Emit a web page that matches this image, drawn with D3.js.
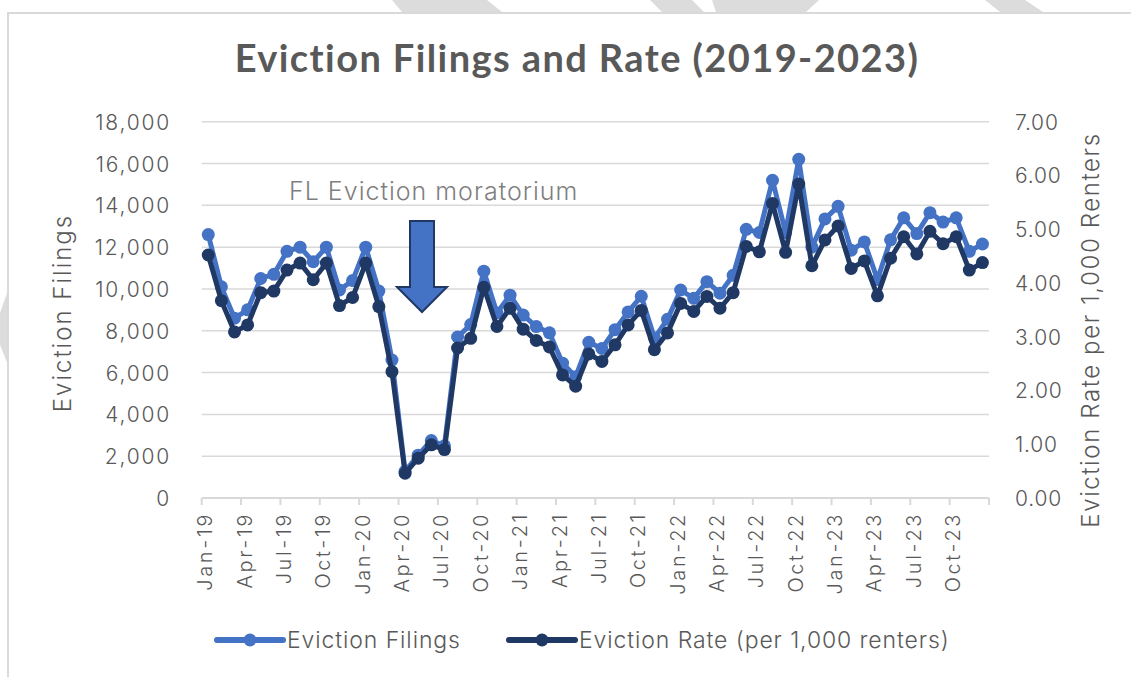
<!DOCTYPE html>
<html>
<head>
<meta charset="utf-8">
<script src="https://cdn.jsdelivr.net/npm/d3@7"></script>
<style>
  body { margin: 0; background: #fff; }
  text { font-family: "Inter", "Open Sans", sans-serif; font-weight: 300; fill: #595959; }
</style>
</head>
<body>
<div id="chart"></div>
<script>
"use strict";

// months on the x axis
var months = [
  "Jan-19","Feb-19","Mar-19","Apr-19","May-19","Jun-19","Jul-19","Aug-19","Sep-19","Oct-19","Nov-19","Dec-19",
  "Jan-20","Feb-20","Mar-20","Apr-20","May-20","Jun-20","Jul-20","Aug-20","Sep-20","Oct-20","Nov-20","Dec-20",
  "Jan-21","Feb-21","Mar-21","Apr-21","May-21","Jun-21","Jul-21","Aug-21","Sep-21","Oct-21","Nov-21","Dec-21",
  "Jan-22","Feb-22","Mar-22","Apr-22","May-22","Jun-22","Jul-22","Aug-22","Sep-22","Oct-22","Nov-22","Dec-22",
  "Jan-23","Feb-23","Mar-23","Apr-23","May-23","Jun-23","Jul-23","Aug-23","Sep-23","Oct-23","Nov-23","Dec-23"
];

// monthly eviction filings (left axis)
var filings = [
  12600, 10100, 8600, 9000, 10500, 10700, 11800, 12000, 11300, 12000, 9950, 10400,
  12000, 9900, 6600, 1280, 2050, 2750, 2500, 7700, 8300, 10850, 8850, 9700,
  8750, 8200, 7900, 6450, 5800, 7450, 7150, 8050, 8900, 9650, 7650, 8550,
  9950, 9550, 10350, 9800, 10650, 12850, 12700, 15200, 12700, 16200, 12000, 13350,
  13950, 11850, 12250, 10450, 12350, 13400, 12650, 13650, 13200, 13400, 11800, 12150
];

// eviction rate per 1,000 renters (right axis)
var rates = [
  4.52, 3.67, 3.09, 3.22, 3.82, 3.85, 4.24, 4.37, 4.06, 4.37, 3.58, 3.73,
  4.37, 3.56, 2.35, 0.46, 0.74, 0.99, 0.90, 2.79, 2.97, 3.92, 3.19, 3.53,
  3.14, 2.93, 2.81, 2.29, 2.08, 2.68, 2.54, 2.85, 3.22, 3.49, 2.76, 3.07,
  3.62, 3.47, 3.75, 3.53, 3.82, 4.68, 4.58, 5.48, 4.57, 5.84, 4.32, 4.80,
  5.06, 4.27, 4.41, 3.76, 4.46, 4.86, 4.54, 4.96, 4.73, 4.86, 4.24, 4.38
];

var leftTicks = [0, 2000, 4000, 6000, 8000, 10000, 12000, 14000, 16000, 18000];
var rightTicks = [0, 1, 2, 3, 4, 5, 6, 7];
var xLabels = ["Jan-19","Apr-19","Jul-19","Oct-19","Jan-20","Apr-20","Jul-20","Oct-20",
  "Jan-21","Apr-21","Jul-21","Oct-21","Jan-22","Apr-22","Jul-22","Oct-22",
  "Jan-23","Apr-23","Jul-23","Oct-23"];

var lightBlue = "#4472C4",
    darkBlue = "#203864",
    gridGray = "#d9d9d9";

// == BOILERPLATE ==
var width = 1131, height = 677;
var plot = { left: 201.7, right: 989, top: 121.7, bottom: 498 };

var svg = d3.select("#chart")
            .append("svg")
            .attr("width", width)
            .attr("height", height)
            .style("display", "block");

// page decorations (frame + faint background shapes)
var deco = [
  [[392,0],[487,0],[502,12],[402,12]],
  [[650,0],[692,0],[704,12],[662,12]],
  [[712,0],[819,0],[806,12],[716,12]],
  [[985,0],[1025,0],[1043,12],[1000,12]],
  [[8,290],[0,313],[0,345],[8,365]]
];
svg.selectAll("polygon.deco")
   .data(deco)
   .enter()
   .append("polygon")
   .attr("class", "deco")
   .attr("points", function(d) { return d.join(" "); })
   .attr("fill", "#dcdcdc");

svg.append("path")
   .attr("d", "M8,677 L8,13 L1131,13")
   .attr("fill", "none")
   .attr("stroke", gridGray)
   .attr("stroke-width", 2);

// scales
var x = d3.scaleBand()
          .domain(months)
          .range([plot.left, plot.right])
          .padding(0);

var yLeft = d3.scaleLinear()
              .domain([0, 18000])
              .range([plot.bottom, plot.top]);

var yRight = d3.scaleLinear()
               .domain([0, 7])
               .range([plot.bottom, plot.top]);

var cx = function(i) { return x(months[i]) + x.bandwidth() / 2; };

// gridlines
svg.selectAll("line.grid")
   .data(leftTicks.slice(1))
   .enter()
   .append("line")
   .attr("class", "grid")
   .attr("x1", plot.left)
   .attr("x2", plot.right)
   .attr("y1", function(d) { return yLeft(d); })
   .attr("y2", function(d) { return yLeft(d); })
   .attr("stroke", gridGray)
   .attr("stroke-width", 1.5);

// x axis line + ticks every 3 months
svg.append("line")
   .attr("x1", plot.left).attr("x2", plot.right)
   .attr("y1", plot.bottom).attr("y2", plot.bottom)
   .attr("stroke", gridGray)
   .attr("stroke-width", 2);

var tickIdx = d3.range(0, months.length + 1, 3);
svg.selectAll("line.xtick")
   .data(tickIdx)
   .enter()
   .append("line")
   .attr("class", "xtick")
   .attr("x1", function(i) { return i < months.length ? x(months[i]) : plot.right; })
   .attr("x2", function(i) { return i < months.length ? x(months[i]) : plot.right; })
   .attr("y1", plot.bottom)
   .attr("y2", plot.bottom + 7)
   .attr("stroke", gridGray)
   .attr("stroke-width", 2);

// x labels (rotated)
svg.selectAll("text.xlab")
   .data(xLabels)
   .enter()
   .append("text")
   .attr("class", "xlab")
   .attr("transform", function(d) {
     var px = x(d) + x.bandwidth() / 2 + 4;
     return "translate(" + px + "," + (plot.bottom + 14) + ") rotate(-90)";
   })
   .attr("text-anchor", "end")
   .style("font-size", "20px")
   .style("letter-spacing", "2.6px")
   .text(function(d) { return d; });

// left axis labels
svg.selectAll("text.ylab")
   .data(leftTicks)
   .enter()
   .append("text")
   .attr("class", "ylab")
   .attr("x", 171)
   .attr("y", function(d) { return yLeft(d) + 8; })
   .attr("text-anchor", "end")
   .style("font-size", "21px")
   .style("letter-spacing", "1.8px")
   .text(function(d) { return d3.format(",")(d); });

// right axis labels
svg.selectAll("text.rlab")
   .data(rightTicks)
   .enter()
   .append("text")
   .attr("class", "rlab")
   .attr("x", 1015)
   .attr("y", function(d) { return yRight(d) + 8; })
   .attr("text-anchor", "start")
   .style("font-size", "21px")
   .style("letter-spacing", "0.8px")
   .text(function(d) { return d.toFixed(2); });

// axis titles
svg.append("text")
   .attr("transform", "translate(71,313) rotate(-90)")
   .attr("text-anchor", "middle")
   .style("font-size", "24px")
   .style("letter-spacing", "2px")
   .text("Eviction Filings");

svg.append("text")
   .attr("transform", "translate(1099,330) rotate(-90)")
   .attr("text-anchor", "middle")
   .style("font-size", "24px")
   .style("letter-spacing", "1.6px")
   .text("Eviction Rate per 1,000 Renters");

// title
svg.append("text")
   .attr("x", 577)
   .attr("y", 72)
   .attr("text-anchor", "middle")
   .style("font-family", "Lato, sans-serif")
   .style("font-weight", 700)
   .style("font-size", "38px")
   .style("letter-spacing", "1.4px")
   .text("Eviction Filings and Rate (2019-2023)");

// annotation
svg.append("text")
   .attr("x", 289)
   .attr("y", 200)
   .style("font-size", "25px")
   .style("letter-spacing", "1px")
   .style("fill", "#7f7f7f")
   .text("FL Eviction moratorium");

var ax = 422, aTop = 221, aNeck = 287, aTip = 312;
svg.append("path")
   .attr("d", "M" + (ax - 12) + "," + aTop + " L" + (ax + 12) + "," + aTop +
              " L" + (ax + 12) + "," + aNeck + " L" + (ax + 25) + "," + aNeck +
              " L" + ax + "," + aTip + " L" + (ax - 25) + "," + aNeck +
              " L" + (ax - 12) + "," + aNeck + " Z")
   .attr("fill", lightBlue)
   .attr("stroke", darkBlue)
   .attr("stroke-width", 2);

// lines
var filingLine = d3.line()
                   .x(function(d, i) { return cx(i); })
                   .y(function(d) { return yLeft(d); });

var rateLine = d3.line()
                 .x(function(d, i) { return cx(i); })
                 .y(function(d) { return yRight(d); });

svg.append("path")
   .datum(filings)
   .attr("d", filingLine)
   .attr("fill", "none")
   .attr("stroke", lightBlue)
   .attr("stroke-width", 5)
   .attr("stroke-linejoin", "round");

svg.selectAll("circle.fil")
   .data(filings)
   .enter()
   .append("circle")
   .attr("class", "fil")
   .attr("cx", function(d, i) { return cx(i); })
   .attr("cy", function(d) { return yLeft(d); })
   .attr("r", 6.5)
   .attr("fill", lightBlue);

svg.append("path")
   .datum(rates)
   .attr("d", rateLine)
   .attr("fill", "none")
   .attr("stroke", darkBlue)
   .attr("stroke-width", 5)
   .attr("stroke-linejoin", "round");

svg.selectAll("circle.rate")
   .data(rates)
   .enter()
   .append("circle")
   .attr("class", "rate")
   .attr("cx", function(d, i) { return cx(i); })
   .attr("cy", function(d) { return yRight(d); })
   .attr("r", 6.5)
   .attr("fill", darkBlue);

// legend
var legend = [
  { name: "Eviction Filings", color: lightBlue, x: 217 },
  { name: "Eviction Rate (per 1,000 renters)", color: darkBlue, x: 509 }
];
var lg = svg.selectAll("g.legend")
            .data(legend)
            .enter()
            .append("g")
            .attr("class", "legend")
            .attr("transform", function(d) { return "translate(" + d.x + ",640)"; });

lg.append("line")
  .attr("x1", 0).attr("x2", 66)
  .attr("stroke", function(d) { return d.color; })
  .attr("stroke-width", 6)
  .attr("stroke-linecap", "round");

lg.append("circle")
  .attr("cx", 33)
  .attr("r", 6.5)
  .attr("fill", function(d) { return d.color; });

lg.append("text")
  .attr("x", 70)
  .attr("y", 8)
  .style("font-size", "23px")
  .style("letter-spacing", "0.9px")
  .text(function(d) { return d.name; });
</script>
</body>
</html>
